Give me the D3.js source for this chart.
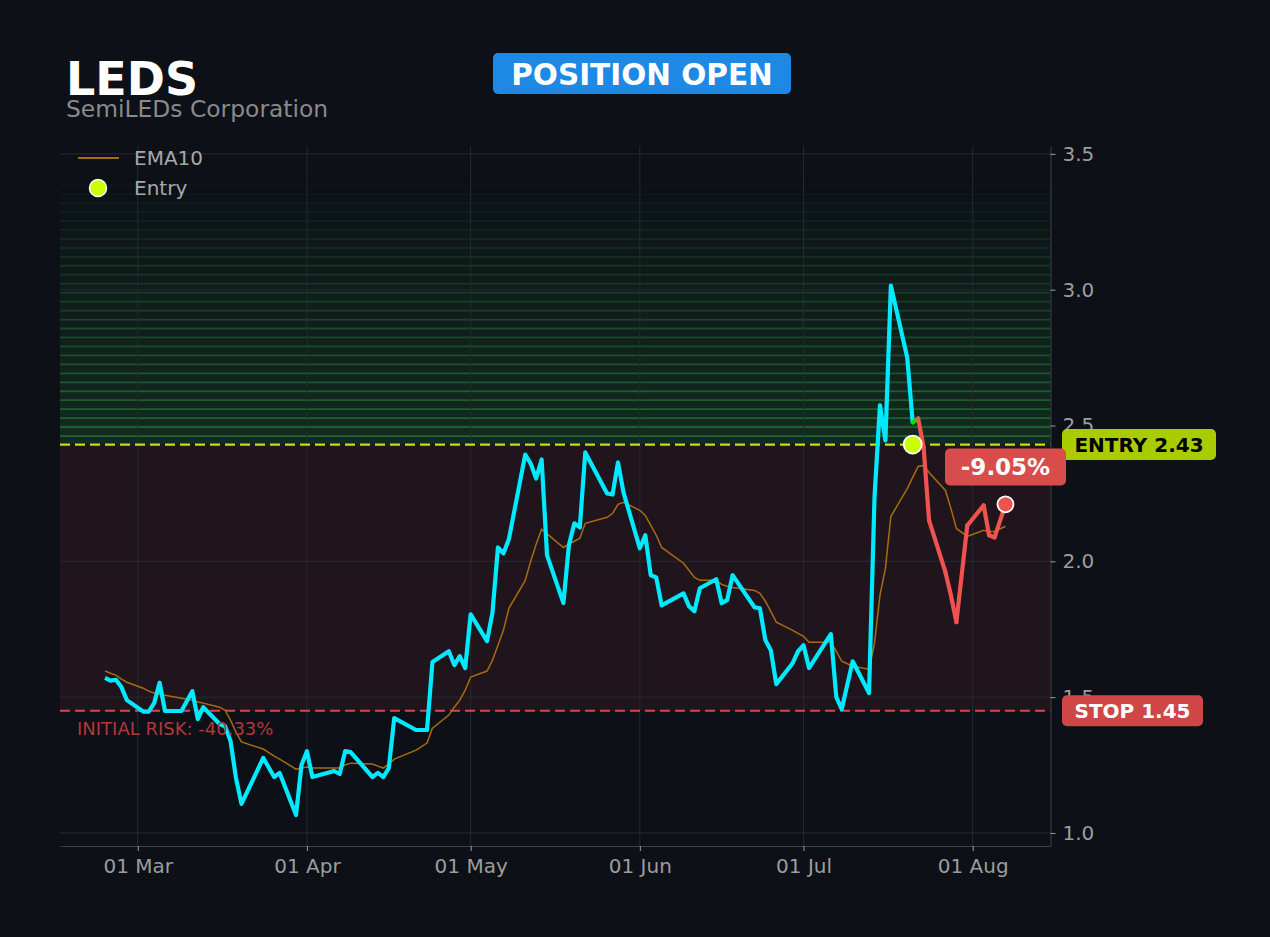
<!DOCTYPE html>
<html>
<head>
<meta charset="utf-8">
<script src="https://cdn.jsdelivr.net/npm/d3@7"></script>
<style>
  html, body { margin: 0; padding: 0; background: #0d1017; }
  svg { display: block; font-family: "DejaVu Sans", sans-serif; }
</style>
</head>
<body>
<svg id="chart" width="1270" height="937"></svg>
<script>
// ---- data ----
const ticker = "LEDS";
const company = "SemiLEDs Corporation";
const status = "POSITION OPEN";
const entryPrice = 2.43;
const stopPrice = 1.45;
const entryDate = "2026-07-21";

const dates = [
  "2026-02-23","2026-02-24","2026-02-25","2026-02-26","2026-02-27",
  "2026-03-02","2026-03-03","2026-03-04","2026-03-05","2026-03-06",
  "2026-03-09","2026-03-11","2026-03-12","2026-03-13","2026-03-16",
  "2026-03-17","2026-03-18","2026-03-19","2026-03-20","2026-03-24",
  "2026-03-26","2026-03-27","2026-03-30","2026-03-31","2026-04-01",
  "2026-04-02","2026-04-06","2026-04-07","2026-04-08","2026-04-09",
  "2026-04-13","2026-04-14","2026-04-15","2026-04-16","2026-04-17",
  "2026-04-21","2026-04-23","2026-04-24","2026-04-27","2026-04-28",
  "2026-04-29","2026-04-30","2026-05-01","2026-05-04","2026-05-05",
  "2026-05-06","2026-05-07","2026-05-08","2026-05-11","2026-05-12",
  "2026-05-13","2026-05-14","2026-05-15","2026-05-18","2026-05-19",
  "2026-05-20","2026-05-21","2026-05-22","2026-05-26","2026-05-27",
  "2026-05-28","2026-05-29","2026-06-01","2026-06-02","2026-06-03",
  "2026-06-04","2026-06-05","2026-06-09","2026-06-10","2026-06-11",
  "2026-06-12","2026-06-15","2026-06-16","2026-06-17","2026-06-18",
  "2026-06-22","2026-06-23","2026-06-24","2026-06-25","2026-06-26",
  "2026-06-29","2026-06-30","2026-07-01","2026-07-02","2026-07-06",
  "2026-07-07","2026-07-08","2026-07-10","2026-07-13","2026-07-14",
  "2026-07-15","2026-07-16","2026-07-17","2026-07-20","2026-07-21",
  "2026-07-22","2026-07-23","2026-07-24","2026-07-27","2026-07-28",
  "2026-07-29","2026-07-31","2026-08-03","2026-08-04","2026-08-05",
  "2026-08-07"
];

const closes = [
  1.571,1.561,1.564,1.537,1.489,
  1.447,1.447,1.478,1.553,1.449,
  1.449,1.522,1.419,1.463,1.401,
  1.393,1.338,1.202,1.107,1.276,
  1.206,1.221,1.066,1.250,1.301,
  1.206,1.228,1.217,1.301,1.298,
  1.206,1.221,1.206,1.239,1.423,
  1.379,1.379,1.629,1.669,1.618,
  1.651,1.607,1.805,1.706,1.812,
  2.051,2.029,2.081,2.393,2.360,
  2.305,2.375,2.022,1.846,2.059,
  2.140,2.125,2.401,2.250,2.246,
  2.364,2.254,2.048,2.096,1.949,
  1.941,1.838,1.882,1.835,1.816,
  1.901,1.934,1.846,1.857,1.949,
  1.831,1.827,1.710,1.673,1.548,
  1.625,1.669,1.691,1.607,1.732,
  1.500,1.456,1.632,1.515,2.235,
  2.574,2.445,3.015,2.750,2.511,
  2.526,2.420,2.151,1.960,1.875,
  1.776,2.132,2.206,2.096,2.088,
  2.210
];

const ema10 = [
  1.596,1.588,1.581,1.566,1.555,
  1.533,1.522,1.515,1.511,1.507,
  1.496,1.489,1.482,1.478,1.463,
  1.452,1.415,1.371,1.335,1.309,
  1.283,1.272,1.235,1.239,1.243,
  1.239,1.239,1.239,1.250,1.257,
  1.254,1.246,1.239,1.254,1.272,
  1.305,1.331,1.386,1.434,1.463,
  1.489,1.526,1.574,1.596,1.636,
  1.691,1.746,1.827,1.930,2.000,
  2.063,2.118,2.101,2.051,2.063,
  2.074,2.085,2.140,2.162,2.176,
  2.210,2.217,2.188,2.169,2.132,
  2.096,2.051,1.993,1.967,1.941,
  1.930,1.930,1.915,1.908,1.904,
  1.893,1.882,1.853,1.816,1.776,
  1.746,1.735,1.724,1.702,1.702,
  1.669,1.632,1.614,1.603,1.699,
  1.875,1.974,2.165,2.268,2.309,
  2.349,2.353,2.327,2.261,2.195,
  2.121,2.092,2.114,2.110,2.110,
  2.129
];

const yTicks = [1.0, 1.5, 2.0, 2.5, 3.0, 3.5];
const zoneTop = 3.42;   // top of the shaded target zone
const zoneBands = 30;

// ---- setup ----
const svg = d3.select("#chart");
const W = 1270, H = 937;
const m = { left: 60, right: 1050.5, top: 146, bottom: 846 };

const parse = d3.utcParse("%Y-%m-%d");
const data = dates.map((d, i) => ({ date: parse(d), close: closes[i], ema: ema10[i] }));
const entryIdx = dates.indexOf(entryDate);
const last = data[data.length - 1];

const pad = 8.25 * 864e5;
const x = d3.scaleUtc()
  .domain([+data[0].date - pad, +last.date + pad])
  .range([m.left, m.right]);
const y = d3.scaleLinear()
  .domain([0.952, 3.529])
  .range([m.bottom, m.top]);

svg.append("rect").attr("width", W).attr("height", H).attr("fill", "#0d1017");

const plot = svg.append("g");

// red risk zone between entry and stop
plot.append("rect")
  .attr("x", m.left).attr("width", m.right - m.left)
  .attr("y", y(entryPrice)).attr("height", y(stopPrice) - y(entryPrice))
  .attr("fill", "#ef5350").attr("opacity", 0.085);

// green stepped zone above entry
const step = (zoneTop - entryPrice) / zoneBands;
const bands = d3.range(zoneBands).map(i => ({
  lo: entryPrice + i * step,
  hi: entryPrice + (i + 1) * step,
  a: 1 - i / zoneBands
}));
plot.selectAll(".band").data(bands).enter().append("rect")
  .attr("x", m.left).attr("width", m.right - m.left)
  .attr("y", d => y(d.hi)).attr("height", d => y(d.lo) - y(d.hi))
  .attr("fill", "#1f7a3a").attr("opacity", d => 0.26 * d.a);
plot.selectAll(".bandline").data(bands).enter().append("line")
  .attr("x1", m.left).attr("x2", m.right)
  .attr("y1", d => y(d.hi) + 0.5).attr("y2", d => y(d.hi) + 0.5)
  .attr("stroke", "#2e8b3e").attr("stroke-width", 1.8)
  .attr("opacity", d => 0.62 * d.a);

// grid
const monthTicks = x.ticks(d3.utcMonth.every(1));
plot.selectAll(".gy").data(yTicks).enter().append("line")
  .attr("x1", m.left).attr("x2", m.right)
  .attr("y1", d => y(d)).attr("y2", d => y(d))
  .attr("stroke", "#262a31").attr("stroke-width", 1);
plot.selectAll(".gx").data(monthTicks).enter().append("line")
  .attr("x1", d => x(d)).attr("x2", d => x(d))
  .attr("y1", m.top).attr("y2", m.bottom)
  .attr("stroke", "#262a31").attr("stroke-width", 1);

// axes
const xAxis = svg.append("g")
  .attr("transform", `translate(0,${m.bottom})`)
  .call(d3.axisBottom(x).tickValues(monthTicks).tickFormat(d3.utcFormat("%d %b"))
    .tickSizeInner(5).tickSizeOuter(0).tickPadding(8));
const yAxis = svg.append("g")
  .attr("transform", `translate(${m.right},0)`)
  .call(d3.axisRight(y).tickValues(yTicks).tickFormat(d3.format(".1f"))
    .tickSizeInner(5).tickSizeOuter(0).tickPadding(7));
[xAxis, yAxis].forEach(a => {
  a.select(".domain").attr("stroke", "#3d4249");
  a.selectAll(".tick line").attr("stroke", "#9a9a9a");
  a.selectAll(".tick text").attr("fill", "#9d9d9d")
    .style("font-family", "DejaVu Sans").style("font-size", "20px");
});

// entry / stop lines
plot.append("line")
  .attr("x1", m.left).attr("x2", m.right)
  .attr("y1", y(entryPrice)).attr("y2", y(entryPrice))
  .attr("stroke", "#c5e010").attr("stroke-width", 2.2).attr("stroke-dasharray", "10,5");
plot.append("line")
  .attr("x1", m.left).attr("x2", m.right)
  .attr("y1", y(stopPrice)).attr("y2", y(stopPrice))
  .attr("stroke", "#d94848").attr("stroke-width", 2.2).attr("stroke-dasharray", "10,5");

// EMA line
const line = d3.line().x(d => x(d.date));
plot.append("path")
  .datum(data)
  .attr("fill", "none")
  .attr("stroke", "#a86c10").attr("stroke-width", 1.5)
  .attr("d", line.y(d => y(d.ema)));

// price before entry
const priceLine = d3.line().x(d => x(d.date)).y(d => y(d.close));
plot.append("path")
  .datum(data.slice(0, entryIdx + 1))
  .attr("fill", "none")
  .attr("stroke", "#00eaff").attr("stroke-width", 4.2)
  .attr("stroke-linejoin", "round")
  .attr("d", priceLine);

// price after entry, segment colour by side of entry
const segs = d3.range(entryIdx, data.length - 1).map(i => [data[i], data[i + 1]]);
plot.selectAll(".seg").data(segs).enter().append("path")
  .attr("fill", "none")
  .attr("stroke", d => d[1].close >= entryPrice ? "#00e000" : "#ef5350")
  .attr("stroke-width", 4.2).attr("stroke-linecap", "round")
  .attr("d", priceLine);

// markers
plot.append("circle")
  .attr("cx", x(parse(entryDate))).attr("cy", y(entryPrice)).attr("r", 9)
  .attr("fill", "#ccff00").attr("stroke", "#fff").attr("stroke-width", 1.8);
plot.append("circle")
  .attr("cx", x(last.date)).attr("cy", y(last.close)).attr("r", 8)
  .attr("fill", "#ef5350").attr("stroke", "#fff").attr("stroke-width", 1.8);

// right-side labels
function tag(xl, yc, w, h, fill, txt, color, size) {
  svg.append("rect").attr("x", xl).attr("y", yc - h / 2).attr("width", w).attr("height", h)
    .attr("rx", 5).attr("fill", fill);
  svg.append("text").attr("x", xl + w / 2).attr("y", yc).attr("dy", "0.36em")
    .attr("text-anchor", "middle").attr("fill", color)
    .style("font-size", size + "px").style("font-weight", "bold").text(txt);
}
tag(1062, y(entryPrice), 154, 31, "#a8cc00", `ENTRY ${entryPrice.toFixed(2)}`, "#000", 20);
tag(1062, y(stopPrice), 141, 31, "#d04545", `STOP ${stopPrice.toFixed(2)}`, "#fff", 20);
const pnl = (last.close - entryPrice) / entryPrice * 100;
tag(945, 467, 121, 37, "#d94c4c", `${pnl.toFixed(2)}%`, "#fff", 23);

const risk = (stopPrice - entryPrice) / entryPrice * 100;
svg.append("text").attr("x", 77).attr("y", y(stopPrice) + 24)
  .attr("fill", "#b3363a").style("font-size", "18px")
  .text(`INITIAL RISK: ${risk.toFixed(2)}%`);

// header
svg.append("text").attr("x", 66).attr("y", 95).attr("fill", "#fff")
  .style("font-size", "46px").style("font-weight", "bold").text(ticker);
svg.append("text").attr("x", 66).attr("y", 117).attr("fill", "#8a8a8a")
  .style("font-size", "23.4px").text(company);
svg.append("rect").attr("x", 493).attr("y", 53).attr("width", 298).attr("height", 41)
  .attr("rx", 5).attr("fill", "#1e88e5");
svg.append("text").attr("x", 642).attr("y", 74).attr("dy", "0.36em").attr("text-anchor", "middle")
  .attr("fill", "#fff").style("font-size", "29.5px").style("font-weight", "bold").text(status);

// legend
const lg = svg.append("g");
lg.append("line").attr("x1", 78).attr("x2", 119).attr("y1", 158).attr("y2", 158)
  .attr("stroke", "#a86c10").attr("stroke-width", 2);
lg.append("text").attr("x", 134).attr("y", 165).attr("fill", "#a8a8a8")
  .style("font-size", "20px").text("EMA10");
lg.append("circle").attr("cx", 98).attr("cy", 188).attr("r", 8.5)
  .attr("fill", "#ccff00").attr("stroke", "#fff").attr("stroke-width", 1.5);
lg.append("text").attr("x", 134).attr("y", 195).attr("fill", "#a8a8a8")
  .style("font-size", "20px").text("Entry");
</script>
</body>
</html>
